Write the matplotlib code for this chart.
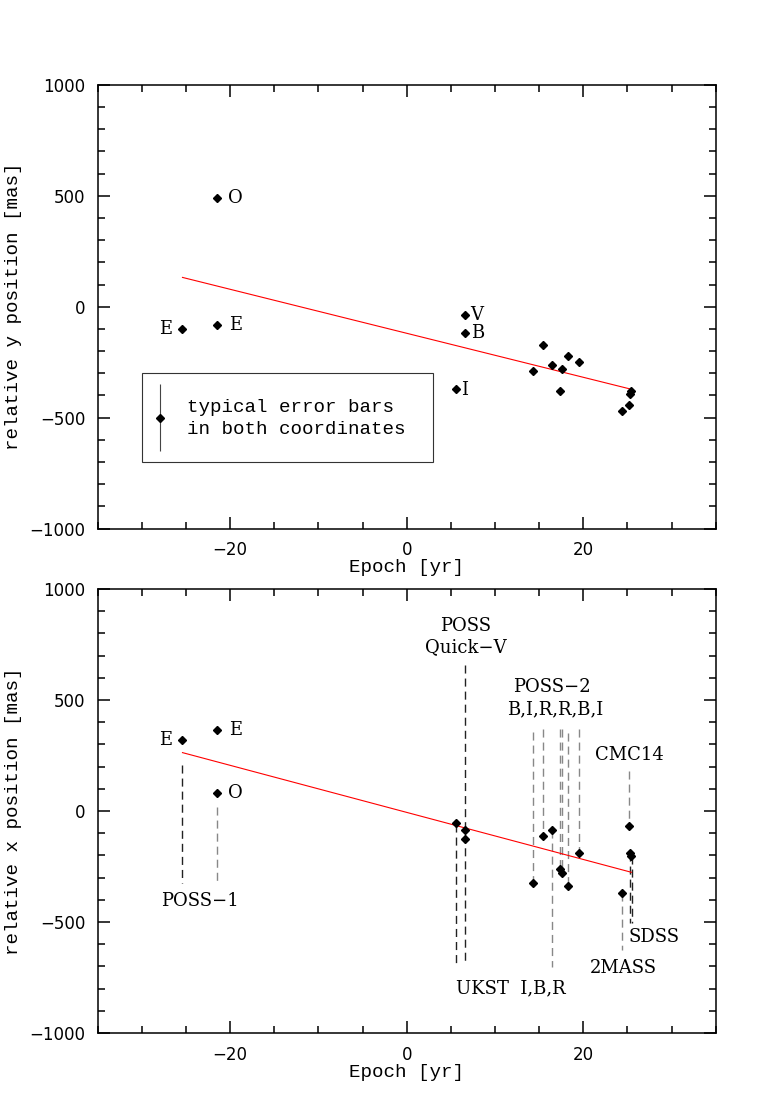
import matplotlib
matplotlib.use("Agg")
import matplotlib.pyplot as plt
from matplotlib.patches import Rectangle
from matplotlib.ticker import MultipleLocator

# ---------------- data ----------------
epochs = [-25.45, -21.5, -21.5, 5.55, 6.57, 6.6, 14.35, 15.48, 16.5, 17.33,
          17.55, 18.25, 19.5, 24.4, 25.2, 25.26, 25.45]
rel_y = [-100, -81, 490, -369, -39, -120, -290, -171, -261, -381,
         -281, -221, -251, -471, -441, -392, -381]
rel_x = [320, 365, 81, -53, -84, -128, -324, -114, -84, -260,
         -278, -338, -189, -369, -69, -189, -204]

fit_epoch = [-25.4, 25.45]
fit_y = [132, -372]
fit_x = [263, -276]

# typical error bar (legend)
err_epoch = -28.0
err_center = -500
err_half = 150

# guide lines of bottom panel: epoch, upper end, lower end
guide_epoch = [-25.45, -21.5, 5.55, 6.57, 16.5, 14.35, 15.48, 17.33, 17.55,
               18.25, 19.5, 25.2, 25.26, 25.48, 24.35]
guide_top = [207, 17, -60, 658, -86, 357, 368, 368, 368, 350, 368, 182,
             -189, -204, -369]
guide_bottom = [-323, -323, -689, -689, -701, -318, -114, -255, -270, -338,
                -189, -69, -503, -503, -626]
guide_dark = [True, False, True, True, False, False, False, False, False,
              False, False, False, True, True, False]

xlim = (-35, 35)
ylim = (-1000, 1000)

MONO = ["Liberation Mono", "DejaVu Sans Mono"]
SERIF = ["DejaVu Serif"]
FS = 13.8
FSS = 13
plt.rcParams["font.family"] = ["DejaVu Sans"]

fig = plt.figure(figsize=(7.6, 10.95), dpi=100)
ax1 = fig.add_axes([0.1286, 0.5172, 0.8131, 0.4054])
ax2 = fig.add_axes([0.1286, 0.0566, 0.8131, 0.4055])

for ax, ylabel in ((ax1, "relative y position [mas]"),
                   (ax2, "relative x position [mas]")):
    ax.set_xlim(*xlim)
    ax.set_ylim(*ylim)
    ax.xaxis.set_major_locator(MultipleLocator(20))
    ax.xaxis.set_minor_locator(MultipleLocator(5))
    ax.yaxis.set_major_locator(MultipleLocator(500))
    ax.yaxis.set_minor_locator(MultipleLocator(100))
    ax.tick_params(which="both", direction="in", top=True, right=True,
                   width=1.1, labelsize=12)
    ax.tick_params(which="major", length=8.6, pad=9)
    ax.tick_params(which="minor", length=5)
    for s in ax.spines.values():
        s.set_linewidth(1.1)
    ax.set_xlabel("Epoch [yr]", family=MONO, fontsize=FS, labelpad=0)
    ax.set_ylabel(ylabel, family=MONO, fontsize=FS, labelpad=5)

# ---------------- top panel ----------------
ax1.plot(fit_epoch, fit_y, color="red", lw=0.8, zorder=2)
ax1.plot(epochs, rel_y, ls="none", marker="D", ms=4.4, color="black", zorder=3)

top_labels = [("E", -27.3, -100), ("E", -19.4, -81), ("O", -19.4, 490),
              ("V", 7.97, -39), ("B", 8.04, -120), ("I", 6.57, -375)]
for t, xx, yy in top_labels:
    ax1.text(xx, yy, t, family=SERIF, fontsize=FSS, ha="center", va="center")

ax1.add_patch(Rectangle((-30, -700), 33, 400, fill=False, edgecolor="#333333",
                        lw=0.8, zorder=1))
ax1.errorbar([err_epoch], [err_center], yerr=[err_half], fmt="D", ms=4.4,
             color="black", ecolor="#444444", elinewidth=0.8, capsize=0)
ax1.text(-24.9, -455, "typical error bars", family=MONO, fontsize=FS,
         ha="left", va="center")
ax1.text(-24.9, -551, "in both coordinates", family=MONO, fontsize=FS,
         ha="left", va="center")

# ---------------- bottom panel ----------------
for gx, gt, gb, dark in zip(guide_epoch, guide_top, guide_bottom, guide_dark):
    ax2.plot([gx, gx], [gt, gb], color="#222222" if dark else "#888888",
             lw=1.0, ls=(0, (5.8, 3.6)), zorder=1)
ax2.plot(fit_epoch, fit_x, color="red", lw=0.8, zorder=2)
ax2.plot(epochs, rel_x, ls="none", marker="D", ms=4.4, color="black", zorder=3)

bottom_labels = [("E", -27.3, 320), ("E", -19.4, 365), ("O", -19.4, 81),
                 ("POSS\u22121", -23.4, -405), ("POSS", 6.65, 833),
                 ("Quick\u2212V", 6.65, 737), ("POSS\u22122", 16.47, 560),
                 ("B,I,R,R,B,I", 16.84, 459), ("CMC14", 25.26, 252),
                 ("SDSS", 28.05, -569), ("2MASS", 24.5, -709),
                 ("UKST  I,B,R", 11.74, -797)]
for t, xx, yy in bottom_labels:
    ax2.text(xx, yy, t, family=SERIF, fontsize=FSS, ha="center", va="center")

fig.savefig("out.png", dpi=100)
